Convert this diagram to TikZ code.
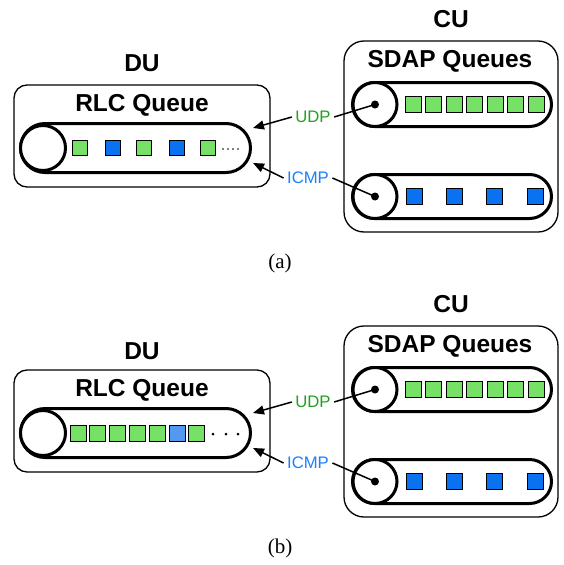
\documentclass[tikz,border=0pt]{standalone}
\usepackage{fontspec}
\setmainfont{Liberation Serif}
\setsansfont{Liberation Sans}
\usetikzlibrary{arrows.meta}

\definecolor{pktgreen}{HTML}{77E066}
\definecolor{pktblue}{HTML}{0A72F0}
\definecolor{pktlight}{HTML}{5599EE}
\definecolor{udpgreen}{HTML}{22A022}
\definecolor{icmpblue}{HTML}{1A80FF}

\tikzset{
  title/.style={font=\sffamily\bfseries\fontsize{24.5}{28}\selectfont},
  proto/.style={font=\sffamily\fontsize{16.7}{20}\selectfont},
  unitbox/.style={draw, line width=1.3pt, inner sep=0pt},
  queue/.style={draw, line width=3pt, inner sep=0pt},
  head/.style={circle, draw, fill=white, line width=3pt, inner sep=0pt},
  pkt/.style={draw, line width=1pt, inner sep=0pt, minimum size=15pt},
  feed/.style={line width=1.5pt, -{Triangle[length=11pt,width=9pt]}},
  tap/.style={line width=1.5pt},
  caption/.style={font=\fontsize{21}{24}\selectfont},
}

\begin{document}
\begin{tikzpicture}[x=1pt,y=-1pt]
    \useasboundingbox (0,0) rectangle (563,565);

    % ---------------- (a) ----------------
    % DU side
    \node[title] (du-a) at (142,63) {DU};
    \node[unitbox, rounded corners=13pt, minimum width=256pt, minimum height=102pt] (dubox-a) at (142,136) {};
    \node[title] (rlc-a) at (142,105) {RLC Queue};
    \node[queue, rounded corners=24.5pt, minimum width=230pt, minimum height=49pt] (rlcq-a) at (135.5,148) {};
    \node[head, minimum size=45pt] (rlch-a) at (43,148) {};
    \foreach \x/\c [count=\i] in {80/pktgreen,113/pktblue,144/pktgreen,177/pktblue,208/pktgreen}
        \node[pkt, fill=\c] (rp\i-a) at (\x,148) {};
    \foreach \x in {223,228,233,238}
        \fill (\x,149) circle (0.8pt);

    % CU side
    \node[title] (cu-a) at (451,19) {CU};
    \node[unitbox, rounded corners=20pt, minimum width=214pt, minimum height=191pt] (cubox-a) at (451,136.5) {};
    \node[title] (sdap-a) at (450,61) {SDAP Queues};
    \node[queue, rounded corners=22pt, minimum width=199pt, minimum height=44pt] (udpq-a) at (452,104.5) {};
    \node[head, minimum size=44pt] (udph-a) at (375,104.5) {};
    \fill (udph-a) circle (4pt);
    \foreach \i in {0,...,6}
        \node[pkt, fill=pktgreen, minimum size=16pt] (up\i-a) at (413+20.5*\i,104.5) {};
    \node[queue, rounded corners=22pt, minimum width=199pt, minimum height=44pt] (icmpq-a) at (452,196.5) {};
    \node[head, minimum size=44pt] (icmph-a) at (375,196.5) {};
    \fill (icmph-a) circle (4pt);
    \foreach \x [count=\i] in {414,454,494,535}
        \node[pkt, fill=pktblue, minimum size=16pt] (ip\i-a) at (\x,196.5) {};

    % flows between them
    \node[proto, text=udpgreen] (udp-a) at (313,117) {UDP};
    \node[proto, text=icmpblue] (icmp-a) at (308,178) {ICMP};
    \coordinate (udpin-a) at (253,128);
    \coordinate (icmpin-a) at (253,163);
    \draw[feed] (udp-a.west) -- (udpin-a);
    \draw[feed] (icmp-a.west) -- (icmpin-a);
    \draw[tap] (udp-a.east) -- (udph-a.center);
    \draw[tap] (icmp-a.east) -- (icmph-a.center);

    \node[caption] (cap-a) at (280,263) {(a)};

    % ---------------- (b) ----------------
    \begin{scope}[shift={(0,285)}]
    % DU side
    \node[title] (du-b) at (142,66) {DU};
    \node[unitbox, rounded corners=13pt, minimum width=256pt, minimum height=102pt] (dubox-b) at (142,136) {};
    \node[title] (rlc-b) at (142,105) {RLC Queue};
    \node[queue, rounded corners=24.5pt, minimum width=230pt, minimum height=49pt] (rlcq-b) at (135.5,148) {};
    \node[head, minimum size=45pt] (rlch-b) at (43,148) {};
    \foreach \c [count=\i] in {pktgreen,pktgreen,pktgreen,pktgreen,pktgreen,pktlight,pktgreen}
        \node[pkt, fill=\c, minimum size=16pt] (rp\i-b) at (58.2+19.8*\i,148) {};
    \foreach \x in {213,226,238}
        \fill (\x,149) circle (1.5pt);

    % CU side
    \node[title] (cu-b) at (451,19) {CU};
    \node[unitbox, rounded corners=20pt, minimum width=214pt, minimum height=191pt] (cubox-b) at (451,136.5) {};
    \node[title] (sdap-b) at (450,61) {SDAP Queues};
    \node[queue, rounded corners=22pt, minimum width=199pt, minimum height=44pt] (udpq-b) at (452,104.5) {};
    \node[head, minimum size=44pt] (udph-b) at (375,104.5) {};
    \fill (udph-b) circle (4pt);
    \foreach \i in {0,...,6}
        \node[pkt, fill=pktgreen, minimum size=16pt] (up\i-b) at (413+20.5*\i,104.5) {};
    \node[queue, rounded corners=22pt, minimum width=199pt, minimum height=44pt] (icmpq-b) at (452,196.5) {};
    \node[head, minimum size=44pt] (icmph-b) at (375,196.5) {};
    \fill (icmph-b) circle (4pt);
    \foreach \x [count=\i] in {414,454,494,535}
        \node[pkt, fill=pktblue, minimum size=16pt] (ip\i-b) at (\x,196.5) {};

    % flows between them
    \node[proto, text=udpgreen] (udp-b) at (313,117) {UDP};
    \node[proto, text=icmpblue] (icmp-b) at (308,178) {ICMP};
    \coordinate (udpin-b) at (253,128);
    \coordinate (icmpin-b) at (253,163);
    \draw[feed] (udp-b.west) -- (udpin-b);
    \draw[feed] (icmp-b.west) -- (icmpin-b);
    \draw[tap] (udp-b.east) -- (udph-b.center);
    \draw[tap] (icmp-b.east) -- (icmph-b.center);

    \node[caption] (cap-b) at (280,263) {(b)};
    \end{scope}
\end{tikzpicture}
\end{document}
